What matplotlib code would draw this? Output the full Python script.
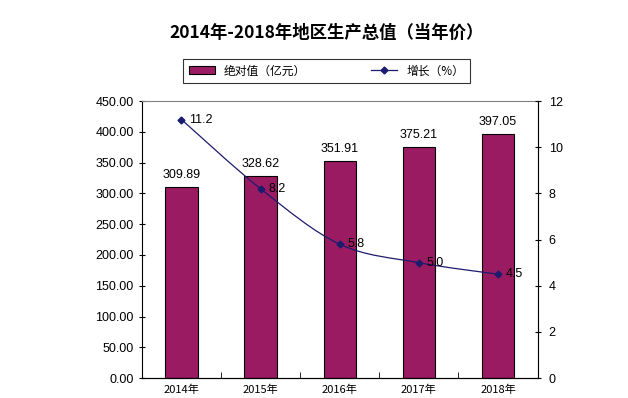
import matplotlib
matplotlib.use('Agg')
import matplotlib.pyplot as plt
from matplotlib.path import Path
from matplotlib.patches import PathPatch
from matplotlib.lines import Line2D
from matplotlib.patches import Patch
import numpy as np

plt.rcParams['font.family'] = ['Liberation Sans', 'Noto Sans CJK SC', 'DejaVu Sans']

# data
years = ['2014年', '2015年', '2016年', '2017年', '2018年']
gdp = [309.89, 328.62, 351.91, 375.21, 397.05]
growth = [11.2, 8.2, 5.8, 5.0, 4.5]

bar_color = '#9B1B62'
line_color = '#1C1C6E'

fig = plt.figure(figsize=(6.28, 3.98), dpi=100)
ax = fig.add_axes([0.226, 0.050, 0.630, 0.696])
x = np.arange(len(years))

ax.bar(x, gdp, width=0.41, color=bar_color, edgecolor='black', linewidth=0.8, zorder=2)
for xi, v in zip(x, gdp):
    ax.text(xi, v + 10, f'{v:.2f}', ha='center', va='bottom', fontsize=9)

ax.set_xlim(-0.5, len(years) - 0.5)
ax.set_ylim(0, 450)
ax.set_yticks(np.arange(0, 451, 50))
ax.set_yticklabels([f'{t:.2f}' for t in np.arange(0, 451, 50)], fontsize=9)
ax.set_xticks(x)
ax.set_xticklabels(years, fontsize=8, family=['Noto Sans CJK SC'])
ax.set_xticks(np.arange(0.5, len(years) - 1, 1), minor=True)
ax.tick_params(axis='x', which='major', length=0, pad=5)
ax.tick_params(axis='x', which='minor', length=4, direction='in')
ax.tick_params(axis='y', length=4, direction='inout', pad=4)
for s in ['top', 'right']:
    ax.spines[s].set_color('#808080')

ax2 = ax.twinx()
ax2.set_ylim(0, 12)
ax2.set_yticks(np.arange(0, 13, 2))
ax2.tick_params(axis='y', length=4, direction='inout', labelsize=9, pad=6)

# smoothed line (Catmull-Rom style bezier through the data points)
pts = np.column_stack([x, growth]).astype(float)
verts = [tuple(pts[0])]
codes = [Path.MOVETO]
n = len(pts)
for i in range(n - 1):
    p0 = pts[max(i - 1, 0)]
    p1 = pts[i]
    p2 = pts[i + 1]
    p3 = pts[min(i + 2, n - 1)]
    c1 = p1 + (p2 - p0) / 6
    c2 = p2 - (p3 - p1) / 6
    verts += [tuple(c1), tuple(c2), tuple(p2)]
    codes += [Path.CURVE4] * 3
ax2.add_patch(PathPatch(Path(verts, codes), facecolor='none', edgecolor=line_color, linewidth=0.9, zorder=3))
ax2.plot(x, growth, linestyle='none', marker='D', markersize=3.5, color=line_color, zorder=4)
for xi, v in zip(x, growth):
    ax2.text(xi + 0.1, v, f'{v:.1f}', ha='left', va='center', fontsize=9)
for s in ['top', 'left']:
    ax2.spines[s].set_visible(False)

fig.text(0.52, 0.918, '2014年-2018年地区生产总值（当年价）', ha='center', va='center',
         fontsize=12.5, fontweight='bold', family=['Noto Sans CJK SC'])

handles = [Patch(facecolor=bar_color, edgecolor='black', linewidth=0.8),
           Line2D([0], [0], color=line_color, marker='D', markersize=3.5, linewidth=0.9)]
leg = fig.legend(handles, ['绝对值（亿元）', '增长（%）'], loc='center', bbox_to_anchor=(0.520, 0.822),
                 ncol=2, frameon=True, fancybox=False, edgecolor='black',
                 prop={'family': ['Noto Sans CJK SC'], 'size': 8.5},
                 columnspacing=5.5, handlelength=2.2, borderpad=0.45, handleheight=0.7,
                 borderaxespad=0)
leg.get_frame().set_linewidth(0.8)

fig.savefig('out.png', dpi=100)
